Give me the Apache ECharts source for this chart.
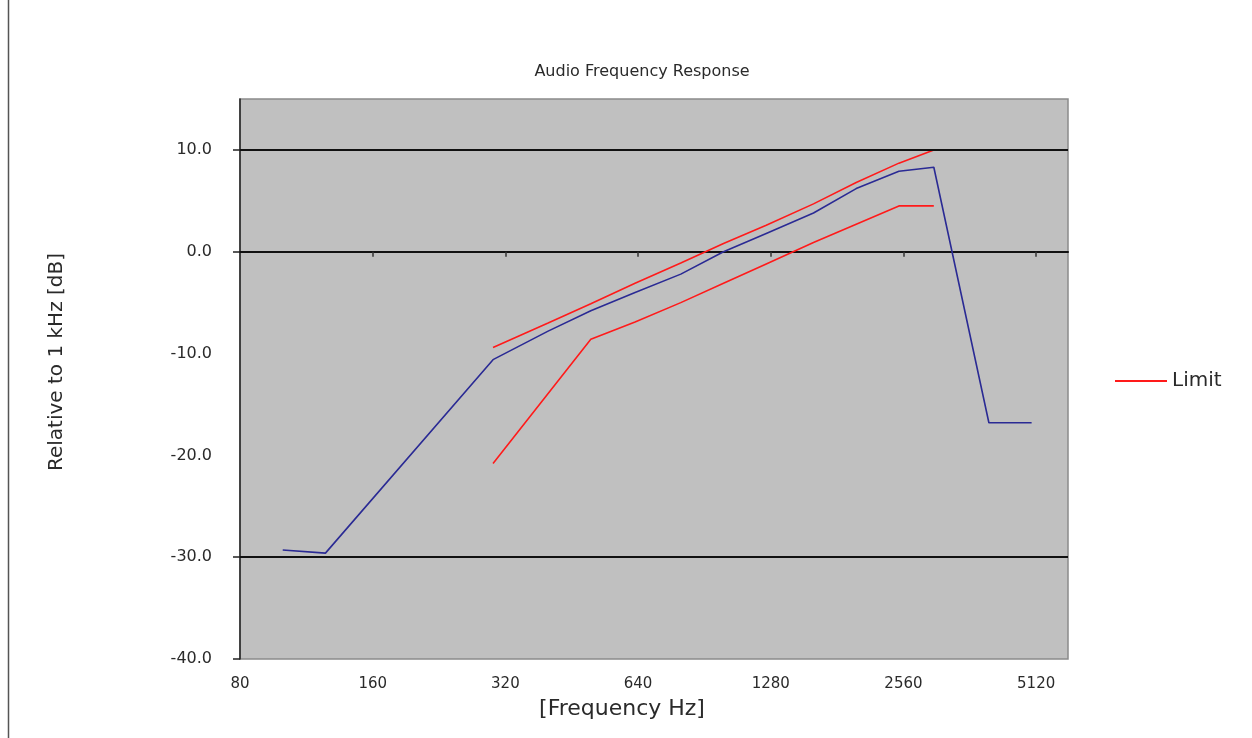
<!DOCTYPE html>
<html>
<head>
<meta charset="utf-8">
<title>Audio Frequency Response</title>
<script src="https://cdn.jsdelivr.net/npm/echarts@6/dist/echarts.min.js"></script>
<style>
  html, body { margin: 0; padding: 0; background: #ffffff; }
  #chart { width: 1252px; height: 738px; }
</style>
</head>
<body>
<div id="chart"></div>
<script>
// Frequency axis is drawn in octaves above the base frequency
const BASE_HZ = 80;
const OCTAVE_SPAN = 6.24;

// Measured response, relative to 1 kHz
const measuredFreq  = [100, 125, 300, 400, 500, 630, 800, 1000, 1250, 1600, 2000, 2500, 3000, 4000, 5000];
const measuredLevel = [-29.3, -29.6, -10.6, -7.8, -5.8, -4.0, -2.2, 0.0, 1.8, 3.8, 6.2, 7.9, 8.3, -16.8, -16.8];

// Upper limit
const upperFreq  = [300, 400, 500, 630, 800, 1000, 1250, 1600, 2000, 2500, 3000];
const upperLevel = [-9.4, -7.0, -5.1, -3.1, -1.1, 0.8, 2.6, 4.7, 6.8, 8.7, 10.0];

// Lower limit
const lowerFreq  = [300, 500, 630, 800, 1000, 1250, 1600, 2000, 2500, 3000];
const lowerLevel = [-20.8, -8.6, -6.9, -5.0, -3.1, -1.2, 0.9, 2.7, 4.5, 4.5];

// Heavy reference lines across the plot
const referenceLevels = [10, -30];
const yTickValues = [-40, -30, 0, 10];

const toPoints = (freqs, levels) => freqs.map((f, i) => [Math.log2(f / BASE_HZ), levels[i]]);

const FONT = 'DejaVu Sans';
const TEXT_COLOR = '#2a2a2a';
const LIMIT_COLOR = '#ff1a1a';
const MEASURED_COLOR = '#2a2a94';

const chart = echarts.init(document.getElementById('chart'), null, { renderer: 'canvas' });

chart.setOption({
  animation: false,
  backgroundColor: '#ffffff',
  title: {
    text: 'Audio Frequency Response',
    left: 637,
    textAlign: 'center',
    top: 59,
    textStyle: { fontFamily: FONT, fontSize: 16, fontWeight: 'normal', color: TEXT_COLOR }
  },
  legend: {
    data: [{ name: 'Limit', icon: 'rect' }],
    left: 1110,
    top: 366,
    itemWidth: 52,
    itemHeight: 2,
    itemStyle: { color: LIMIT_COLOR },
    textStyle: { fontFamily: FONT, fontSize: 20, color: TEXT_COLOR }
  },
  grid: {
    left: 240,
    top: 99,
    right: 184,
    bottom: 79,
    show: true,
    backgroundColor: '#c0c0c0',
    borderColor: '#8a8a8a',
    borderWidth: 1.5
  },
  xAxis: [
    {
      type: 'value',
      position: 'bottom',
      min: 0,
      max: OCTAVE_SPAN,
      interval: 1,
      axisLine: { show: false, onZero: false },
      axisTick: { show: false },
      splitLine: { show: false },
      axisLabel: {
        showMaxLabel: false,
        margin: 18,
        fontFamily: FONT,
        fontSize: 15,
        color: TEXT_COLOR,
        formatter: v => String(Math.round(BASE_HZ * Math.pow(2, v)))
      }
    },
    {
      type: 'value',
      position: 'top',
      min: 0,
      max: OCTAVE_SPAN,
      interval: 1,
      axisLine: { show: true, onZero: true, lineStyle: { color: '#111111', width: 2 } },
      axisTick: { show: true, inside: true, length: 5, customValues: [1, 2, 3, 4, 5, 6], lineStyle: { color: '#333333', width: 1.5 } },
      axisLabel: { show: false },
      splitLine: { show: false }
    }
  ],
  yAxis: {
    type: 'value',
    min: -40,
    max: 15,
    interval: 10,
    axisLine: { show: true, lineStyle: { color: '#222222', width: 1.5 } },
    axisTick: { show: true, length: 7, customValues: yTickValues, lineStyle: { color: '#222222', width: 1.5 } },
    splitLine: { show: false },
    axisLabel: {
      showMaxLabel: false,
      margin: 28,
      fontFamily: FONT,
      fontSize: 16,
      color: TEXT_COLOR,
      formatter: v => v.toFixed(1)
    }
  },
  graphic: [
    {
      type: 'line',
      shape: { x1: 8.5, y1: 0, x2: 8.5, y2: 738 },
      style: { stroke: '#555555', lineWidth: 1.5 }
    },
    {
      type: 'text',
      x: 57,
      y: 362,
      rotation: Math.PI / 2,
      style: {
        text: 'Relative to 1 kHz [dB]',
        fontFamily: FONT,
        fontSize: 20,
        fill: TEXT_COLOR,
        align: 'center',
        verticalAlign: 'middle'
      }
    },
    {
      type: 'text',
      x: 622,
      y: 709,
      style: {
        text: '[Frequency Hz]',
        fontFamily: FONT,
        fontSize: 22,
        fill: TEXT_COLOR,
        align: 'center',
        verticalAlign: 'middle'
      }
    }
  ],
  series: [
    {
      name: 'Measured',
      type: 'line',
      xAxisIndex: 0,
      data: toPoints(measuredFreq, measuredLevel),
      symbol: 'none',
      lineStyle: { color: MEASURED_COLOR, width: 1.6 },
      itemStyle: { color: MEASURED_COLOR },
      markLine: {
        silent: true,
        symbol: 'none',
        label: { show: false },
        lineStyle: { color: '#111111', width: 2, type: 'solid' },
        data: referenceLevels.map(v => ({ yAxis: v }))
      },
      z: 3
    },
    {
      name: 'Limit',
      type: 'line',
      xAxisIndex: 0,
      data: toPoints(upperFreq, upperLevel),
      symbol: 'none',
      lineStyle: { color: LIMIT_COLOR, width: 1.6 },
      itemStyle: { color: LIMIT_COLOR },
      z: 4
    },
    {
      name: 'Limit',
      type: 'line',
      xAxisIndex: 0,
      data: toPoints(lowerFreq, lowerLevel),
      symbol: 'none',
      lineStyle: { color: LIMIT_COLOR, width: 1.6 },
      itemStyle: { color: LIMIT_COLOR },
      z: 4
    }
  ]
});
</script>
</body>
</html>
